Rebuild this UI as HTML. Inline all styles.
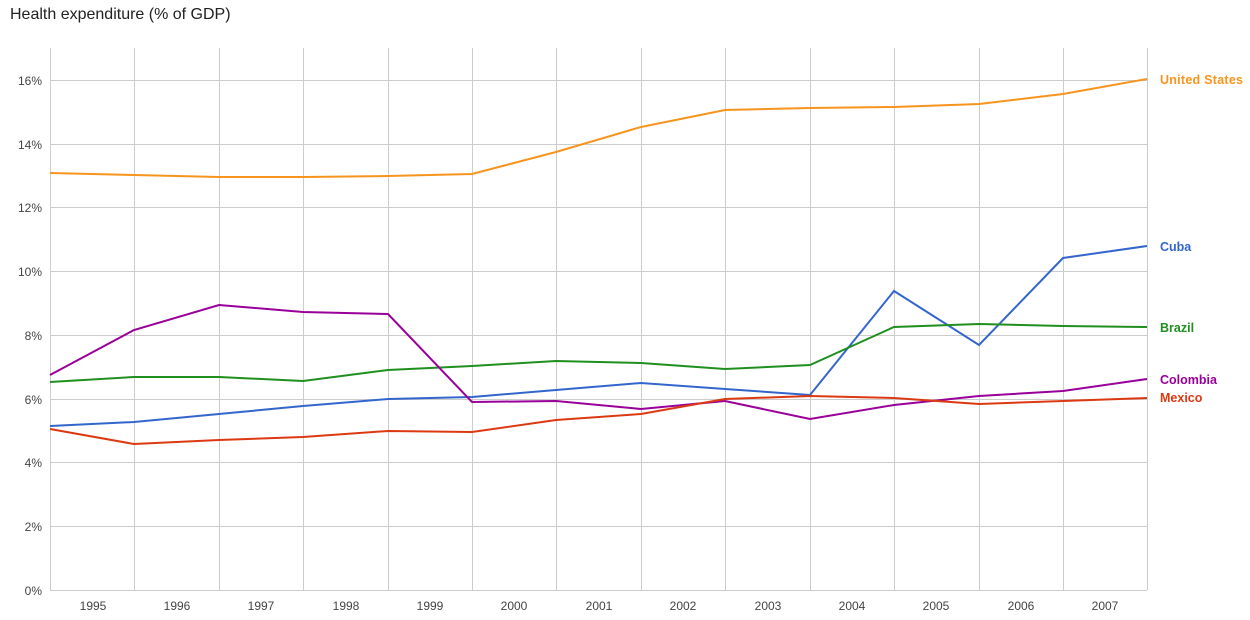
<!DOCTYPE html><html><head><style>body{margin:0;background:#fff}svg text{font-family:"Liberation Sans",Arial,sans-serif}</style></head><body>
<svg width="1250" height="615" xmlns="http://www.w3.org/2000/svg">
<text x="10" y="19" font-size="16" fill="#222">Health expenditure (% of GDP)</text>
<g stroke="#ccc" stroke-width="1">
<line x1="50" y1="80.5" x2="1147" y2="80.5"/><line x1="50" y1="144.5" x2="1147" y2="144.5"/><line x1="50" y1="207.5" x2="1147" y2="207.5"/><line x1="50" y1="271.5" x2="1147" y2="271.5"/><line x1="50" y1="335.5" x2="1147" y2="335.5"/><line x1="50" y1="399.5" x2="1147" y2="399.5"/><line x1="50" y1="462.5" x2="1147" y2="462.5"/><line x1="50" y1="526.5" x2="1147" y2="526.5"/><line x1="50" y1="590.5" x2="1147" y2="590.5"/>
<line x1="50.5" y1="48" x2="50.5" y2="590"/><line x1="134.5" y1="48" x2="134.5" y2="590"/><line x1="219.5" y1="48" x2="219.5" y2="590"/><line x1="303.5" y1="48" x2="303.5" y2="590"/><line x1="388.5" y1="48" x2="388.5" y2="590"/><line x1="472.5" y1="48" x2="472.5" y2="590"/><line x1="556.5" y1="48" x2="556.5" y2="590"/><line x1="641.5" y1="48" x2="641.5" y2="590"/><line x1="725.5" y1="48" x2="725.5" y2="590"/><line x1="810.5" y1="48" x2="810.5" y2="590"/><line x1="894.5" y1="48" x2="894.5" y2="590"/><line x1="979.5" y1="48" x2="979.5" y2="590"/><line x1="1063.5" y1="48" x2="1063.5" y2="590"/><line x1="1147.5" y1="48" x2="1147.5" y2="590"/>
</g>
<g font-size="12" fill="#444" text-anchor="end">
<text x="42" y="85">16%</text><text x="42" y="149">14%</text><text x="42" y="212">12%</text><text x="42" y="276">10%</text><text x="42" y="340">8%</text><text x="42" y="404">6%</text><text x="42" y="467">4%</text><text x="42" y="531">2%</text><text x="42" y="595">0%</text>
</g>
<g font-size="12" fill="#444" text-anchor="middle">
<text x="93" y="610">1995</text><text x="177" y="610">1996</text><text x="261" y="610">1997</text><text x="346" y="610">1998</text><text x="430" y="610">1999</text><text x="514" y="610">2000</text><text x="599" y="610">2001</text><text x="683" y="610">2002</text><text x="768" y="610">2003</text><text x="852" y="610">2004</text><text x="936" y="610">2005</text><text x="1021" y="610">2006</text><text x="1105" y="610">2007</text>
</g>
<g fill="none" stroke-width="2">
<polyline stroke="#f7941d" points="50,173 134,175 219,177 303,177 388,176 472,174 556,152 641,127 725,110 810,108 894,107 979,104 1063,94 1147,79"/>
<polyline stroke="#3366cc" points="50,426 134,422 219,414 303,406 388,399 472,397 556,390 641,383 725,389 810,395 894,291 979,345 1063,258 1147,246"/>
<polyline stroke="#1f8f1f" points="50,382 134,377 219,377 303,381 388,370 472,366 556,361 641,363 725,369 810,365 894,327 979,324 1063,326 1147,327"/>
<polyline stroke="#990099" points="50,375 134,330 219,305 303,312 388,314 472,402 556,401 641,409 725,401 810,419 894,405 979,396 1063,391 1147,379"/>
<polyline stroke="#dc3912" points="50,429 134,444 219,440 303,437 388,431 472,432 556,420 641,414 725,399 810,396 894,398 979,404 1063,401 1147,398"/>
</g>
<g font-size="12.5" font-weight="bold">
<text x="1160" y="84" fill="#f7941d" textLength="83">United States</text>
<text x="1160" y="251" fill="#3366cc">Cuba</text>
<text x="1160" y="332" fill="#1f8f1f">Brazil</text>
<text x="1160" y="384" fill="#990099">Colombia</text>
<text x="1160" y="402" fill="#dc3912">Mexico</text>
</g>
</svg></body></html>
